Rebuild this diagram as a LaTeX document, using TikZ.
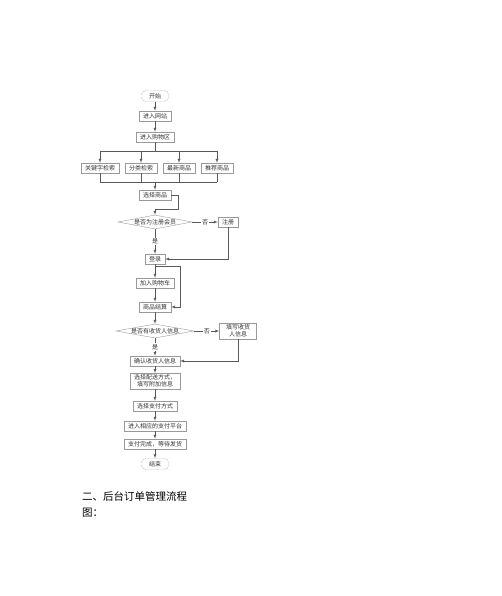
\documentclass[tikz,border=0pt]{standalone}
\usepackage{fontspec}
\newfontfamily\cjk{Noto Sans CJK SC}
\usetikzlibrary{shapes.geometric}

\begin{document}
\begin{tikzpicture}[x=1pt, y=-1pt, font=\cjk\fontsize{6}{7}\selectfont,
    box/.style={rectangle, draw=gray!80, minimum height=10pt, inner xsep=4pt, inner ysep=1.5pt, text=black!80},
    term/.style={rectangle, rounded corners=5pt, draw=gray!45, minimum height=11pt, minimum width=28pt, inner sep=1.5pt, text=black!80},
    decision/.style={diamond, draw=gray!80, inner sep=0pt, text=black!80},
    line/.style={draw=gray!70!black, line width=0.4pt},
    lbl/.style={fill=white, inner sep=1pt, text=black!80}]
    \useasboundingbox (0,0) rectangle (502,596);
    % Place nodes
    \node [term] (start) at (155,96) {开始};
    \node [box] (web) at (155,116) {进入网站};
    \node [box] (shop) at (155,137) {进入购物区};
    \node [box] (k1) at (100,168) {关键字检索};
    \node [box] (k2) at (141,168) {分类检索};
    \node [box] (k3) at (179,168) {最新商品};
    \node [box] (k4) at (217,168) {推荐商品};
    \node [box] (pick) at (155,195) {选择商品};
    \node [decision, minimum width=74pt, minimum height=14pt] (member) at (155,222) {\makebox[0pt]{是否为注册会员}};
    \node [box] (reg) at (228,222) {注册};
    \node [box] (login) at (155,259) {登录};
    \node [box] (cart) at (155,283) {加入购物车};
    \node [box] (pay) at (155,307) {商品结算};
    \node [decision, minimum width=78pt, minimum height=14pt] (addr) at (155,331) {\makebox[0pt]{是否有收货人信息}};
    \node [box, align=center, minimum width=37pt] (fill) at (238,331) {填写收货\\人信息};
    \node [box] (confirm) at (155,361) {确认收货人信息};
    \node [box, align=center] (ship) at (155,381) {选择配送方式，\\填写附加信息};
    \node [box] (paym) at (155,406) {选择支付方式};
    \node [box] (plat) at (155,426) {进入相应的支付平台};
    \node [box] (done) at (155,444) {支付完成，等待发货};
    \node [term] (end) at (155,464) {结束};
    \node [anchor=west, inner sep=0pt, align=left, font=\cjk\fontsize{10.5}{16}\selectfont] (title) at (82,504) {二、后台订单管理流程\\图：};
    % Joints
    \coordinate (split) at (155,151);
    \coordinate (merge) at (155,182);
    \coordinate (jA) at (178,209);
    \coordinate (jB) at (155,266);
    \coordinate (jC) at (180,266);
    % Connectors
    \path[line, -latex] (start) -- (web);
    \path[line, -latex] (web) -- (shop);
    \path[line] (shop) -- (split);
    \path[line] (k1 |- split) -- (k4 |- split);
    \foreach \k in {k1,k2,k3,k4} {
        \path[line, -latex] (\k |- split) -- (\k);
        \path[line] (\k) -- (\k |- merge);
    }
    \path[line] (k1 |- merge) -- (k4 |- merge);
    \path[line, -latex] (merge) -- (pick);
    \path[line, -latex] (pick.east) -| (jA) -| (member.north);
    \path[line, -latex] (member) -- node [lbl] {否} (reg);
    \path[line, -latex] (member) -- node [lbl] {是} (login);
    \path[line, -latex] (reg) |- (login);
    \path[line, -latex] (login) -- (cart);
    \path[line, -latex] (jB) -- (jC) |- (pay);
    \path[line, -latex] (cart) -- (pay);
    \path[line, -latex] (pay) -- (addr);
    \path[line, -latex] (addr) -- node [lbl] {否} (fill);
    \path[line, -latex] (addr) -- node [lbl] {是} (confirm);
    \path[line, -latex] (fill) |- (confirm);
    \path[line, -latex] (confirm) -- (ship);
    \path[line, -latex] (ship) -- (paym);
    \path[line, -latex] (paym) -- (plat);
    \path[line, -latex] (plat) -- (done);
    \path[line, -latex] (done) -- (end);
\end{tikzpicture}
\end{document}
